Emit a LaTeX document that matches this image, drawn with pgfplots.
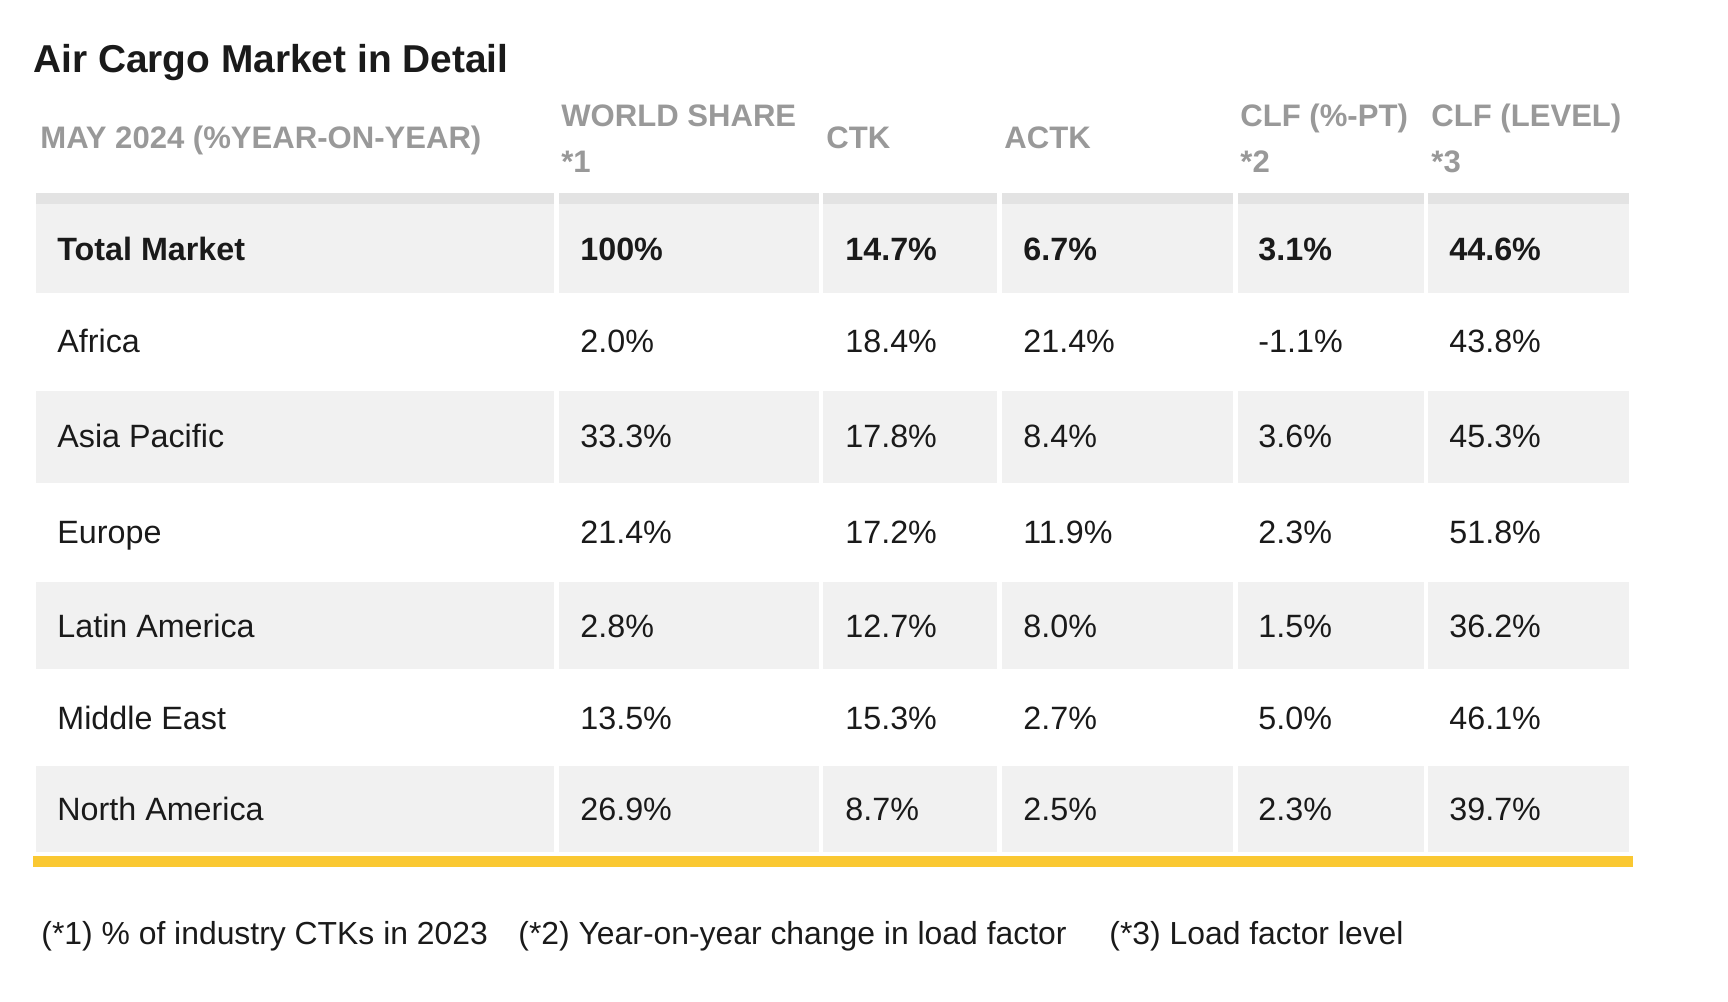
\documentclass[border=0pt]{standalone}
\usepackage{pgfplots}
\usepackage{pgfplotstable}
\pgfplotsset{compat=1.18}
\usepackage{fontspec}
\setmainfont{Liberation Sans}
\definecolor{hdr}{HTML}{999999}
\definecolor{rowgrey}{HTML}{F1F1F1}
\definecolor{band}{HTML}{E3E3E3}
\definecolor{ylw}{HTML}{FAC832}
\definecolor{txt}{HTML}{1A1A1A}

% base = text baseline (pixels from top)
\pgfplotstableread[col sep=comma]{
name,base,share,ctk,actk,clfpt,clflevel
Total Market,260,100,14.7,6.7,3.1,44.6
}\totaltable
\pgfplotstableread[col sep=comma]{
name,base,share,ctk,actk,clfpt,clflevel
Africa,352,2.0,18.4,21.4,-1.1,43.8
Asia Pacific,447,33.3,17.8,8.4,3.6,45.3
Europe,543,21.4,17.2,11.9,2.3,51.8
Latin America,637,2.8,12.7,8.0,1.5,36.2
Middle East,729,13.5,15.3,2.7,5.0,46.1
North America,820,26.9,8.7,2.5,2.3,39.7
}\regiontable

\newcommand\cell[5]{\fill[#5] (axis cs:#1,#3) rectangle (axis cs:#2,#4);}
\newcommand\fullrow[3]{%
  \cell{36}{554}{#1}{#2}{#3}\cell{559}{819}{#1}{#2}{#3}\cell{823}{997}{#1}{#2}{#3}%
  \cell{1002}{1233}{#1}{#2}{#3}\cell{1238}{1424}{#1}{#2}{#3}\cell{1428}{1629}{#1}{#2}{#3}}

\newcommand\bodyfont{\fontsize{16.2}{19}\selectfont}
\newcommand\hdrfont{\fontsize{15.6}{18}\selectfont\bfseries}

\begin{document}
\begin{tikzpicture}
\begin{axis}[
  scale only axis, width=864bp, height=501bp,
  xmin=0, xmax=1728, ymin=0, ymax=1002, y dir=reverse,
  enlargelimits=false, hide axis, clip=false,
  every axis plot/.append style={only marks, mark=none, point meta=explicit symbolic,
    nodes near coords style={anchor=base west, inner sep=0pt, text=txt, font=\bodyfont}},
]
\path (axis cs:0,0) rectangle (axis cs:1728,1002);
% table backgrounds
\fullrow{193}{204}{band}
\fullrow{204}{293}{rowgrey}
\fullrow{391}{483}{rowgrey}
\fullrow{582}{669}{rowgrey}
\fullrow{766}{852}{rowgrey}
\fill[ylw] (axis cs:33,856) rectangle (axis cs:1633,867);

% title
\node[anchor=base west, inner sep=0pt, text=txt, font=\fontsize{19.5}{23}\selectfont\bfseries] at (axis cs:33,72) {Air Cargo Market in Detail};
% headers
\begin{scope}[every node/.style={anchor=base west, inner sep=0pt, text=hdr, font=\hdrfont}]
\node at (axis cs:40,148) {MAY 2024 (\%YEAR-ON-YEAR)};
\node at (axis cs:561,126) {WORLD SHARE};
\node at (axis cs:561,172) {*1};
\node at (axis cs:826,148) {CTK};
\node at (axis cs:1004,148) {ACTK};
\node at (axis cs:1240,126) {CLF (\%-PT)};
\node at (axis cs:1240,172) {*2};
\node at (axis cs:1431,126) {CLF (LEVEL)};
\node at (axis cs:1431,172) {*3};
\end{scope}

% total row (bold)
\addplot[nodes near coords={\textbf{\pgfplotspointmeta}}] table[x expr=57, y=base, meta=name] {\totaltable};
\addplot[nodes near coords={\textbf{\pgfplotspointmeta\%}}] table[x expr=580, y=base, meta=share] {\totaltable};
\addplot[nodes near coords={\textbf{\pgfplotspointmeta\%}}] table[x expr=845, y=base, meta=ctk] {\totaltable};
\addplot[nodes near coords={\textbf{\pgfplotspointmeta\%}}] table[x expr=1023, y=base, meta=actk] {\totaltable};
\addplot[nodes near coords={\textbf{\pgfplotspointmeta\%}}] table[x expr=1258, y=base, meta=clfpt] {\totaltable};
\addplot[nodes near coords={\textbf{\pgfplotspointmeta\%}}] table[x expr=1449, y=base, meta=clflevel] {\totaltable};
% region rows
\addplot[nodes near coords={\pgfplotspointmeta}] table[x expr=57, y=base, meta=name] {\regiontable};
\addplot[nodes near coords={\pgfplotspointmeta\%}] table[x expr=580, y=base, meta=share] {\regiontable};
\addplot[nodes near coords={\pgfplotspointmeta\%}] table[x expr=845, y=base, meta=ctk] {\regiontable};
\addplot[nodes near coords={\pgfplotspointmeta\%}] table[x expr=1023, y=base, meta=actk] {\regiontable};
\addplot[nodes near coords={\pgfplotspointmeta\%}] table[x expr=1258, y=base, meta=clfpt] {\regiontable};
\addplot[nodes near coords={\pgfplotspointmeta\%}] table[x expr=1449, y=base, meta=clflevel] {\regiontable};

% footnotes
\begin{scope}[every node/.style={anchor=base west, inner sep=0pt, text=txt, font=\fontsize{16}{19}\selectfont}]
\node at (axis cs:41,944) {(*1) \% of industry CTKs in 2023};
\node at (axis cs:518,944) {(*2) Year-on-year change in load factor};
\node at (axis cs:1109,944) {(*3) Load factor level};
\end{scope}
\end{axis}
\end{tikzpicture}
\end{document}
